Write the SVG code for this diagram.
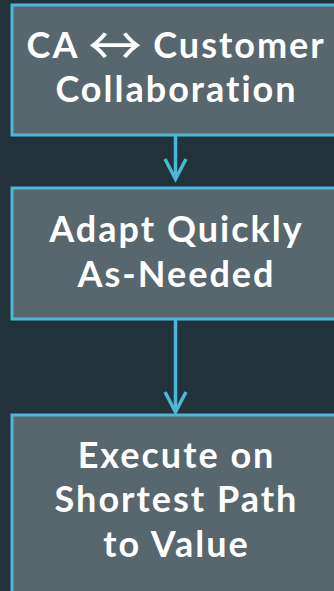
<svg xmlns="http://www.w3.org/2000/svg" width="334" height="591" viewBox="0 0 334 591">
<style>
.box{fill:#58666e;stroke:#4bb9d6;stroke-width:3}
.t{font-family:Lato,"Open Sans","DejaVu Sans",sans-serif;font-weight:bold;font-size:36px;letter-spacing:2px;font-variant-ligatures:none;fill:#ffffff;text-anchor:middle}
.ar{font-family:"Noto Sans CJK SC",sans-serif;font-weight:normal;font-size:54px;fill:#ffffff;text-anchor:middle}
.c{fill:none;stroke:#4bb9d6;stroke-width:3.5}
</style>
<rect width="334" height="591" fill="#22323a"/>
<g id="connectors">
<line class="c" x1="175.5" y1="135" x2="175.5" y2="178"/>
<polyline class="c" points="165,159 175.5,179 186,159"/>
<line class="c" x1="175.5" y1="319" x2="175.5" y2="412"/>
<polyline class="c" points="165,392 175.5,412 186,392"/>
</g>
<g id="node1">
<rect class="box" x="12" y="5" width="340" height="130"/>
<text class="t" x="53" y="58">CA</text>
<text class="ar" x="115" y="66">↔</text>
<text class="t" x="239.5" y="58">Customer</text>
<text class="t" x="176.5" y="102">Collaboration</text>
</g>
<g id="node2">
<rect class="box" x="12" y="188" width="340" height="131"/>
<text class="t" x="176.5" y="242">Adapt Quickly</text>
<text class="t" x="176.5" y="287">As-Needed</text>
</g>
<g id="node3">
<rect class="box" x="12" y="415" width="340" height="190"/>
<text class="t" x="176.5" y="468">Execute on</text>
<text class="t" x="176.5" y="512">Shortest Path</text>
<text class="t" x="176.5" y="557">to Value</text>
</g>
</svg>
